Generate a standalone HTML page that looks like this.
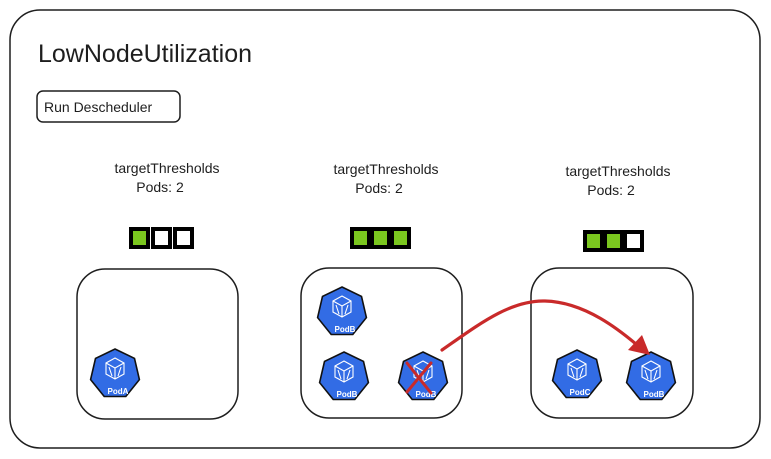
<!DOCTYPE html>
<html><head><meta charset="utf-8"><style>
html,body{margin:0;padding:0;background:#fff;width:771px;height:459px;overflow:hidden}
svg{display:block}
text{font-family:"Liberation Sans",sans-serif;fill:#1e1e1e}
</style></head><body>
<svg width="771" height="459" viewBox="0 0 771 459" xmlns="http://www.w3.org/2000/svg">
<defs>
<g id="pod">
<polygon points="0,-25 19.5,-15.6 24.4,5.6 10.8,22.5 -10.8,22.5 -24.4,5.6 -19.5,-15.6" fill="#326ce5" stroke="#111" stroke-width="1.6"/>
<g stroke="#fff" stroke-width="1.1" fill="none">
<polygon points="0,-16 9,-11 9,0 0,5 -9,0 -9,-11"/>
<polyline points="-9,-11 0,-6 9,-11"/><line x1="0" y1="-6" x2="0" y2="5"/>
<line x1="-6" y1="-7" x2="-3" y2="2"/><line x1="6" y1="-7" x2="3" y2="2"/>
</g>
</g>
</defs>
<rect x="10" y="10" width="750" height="438" rx="30" fill="#fff" stroke="#1e1e1e" stroke-width="1.5"/>
<text x="38" y="62" font-size="25">LowNodeUtilization</text>
<rect x="37" y="91" width="143" height="31" rx="6" fill="#fff" stroke="#1e1e1e" stroke-width="1.5"/>
<text x="44" y="112" font-size="14">Run Descheduler</text>

<g font-size="14" text-anchor="middle">
<text x="167" y="173">targetThresholds</text><text x="160" y="192">Pods: 2</text>
<text x="386" y="174">targetThresholds</text><text x="379" y="193">Pods: 2</text>
<text x="618" y="176">targetThresholds</text><text x="611" y="195">Pods: 2</text>
</g>

<g stroke="#000" stroke-width="4">
<rect x="131" y="229" width="17" height="18" fill="#7bc71f"/>
<rect x="153" y="229" width="17" height="18" fill="#fff"/>
<rect x="175" y="229" width="17" height="18" fill="#fff"/>
<rect x="352" y="229" width="17" height="18" fill="#7bc71f"/>
<rect x="372" y="229" width="17" height="18" fill="#7bc71f"/>
<rect x="392" y="229" width="17" height="18" fill="#7bc71f"/>
<rect x="585" y="232" width="17" height="18" fill="#7bc71f"/>
<rect x="605" y="232" width="17" height="18" fill="#7bc71f"/>
<rect x="625" y="232" width="17" height="18" fill="#fff"/>
</g>

<g fill="none" stroke="#1e1e1e" stroke-width="1.5">
<rect x="77" y="269" width="161" height="150" rx="28"/>
<rect x="301" y="268" width="161" height="150" rx="28"/>
<rect x="531" y="268" width="162" height="150" rx="28"/>
</g>

<use href="#pod" x="115" y="374"/>
<use href="#pod" x="342" y="312"/>
<use href="#pod" x="344" y="377"/>
<use href="#pod" x="423" y="377"/>
<use href="#pod" x="577" y="375"/>
<use href="#pod" x="651" y="377"/>
<g font-size="8" fill="#fff" text-anchor="middle" font-weight="bold">
<text x="118" y="394" style="fill:#fff">PodA</text>
<text x="345" y="332" style="fill:#fff">PodB</text>
<text x="347" y="397" style="fill:#fff">PodB</text>
<text x="426" y="397" style="fill:#fff">PodB</text>
<text x="580" y="395" style="fill:#fff">PodC</text>
<text x="654" y="397" style="fill:#fff">PodB</text>
</g>
<g stroke="#c92a2a" stroke-width="3" stroke-linecap="round">
<line x1="407" y1="363" x2="431" y2="393"/><line x1="431" y1="363" x2="407" y2="392"/>
</g>
<path d="M442,350 C478,325 510,300 545,301 C585,302 620,330 643,350" fill="none" stroke="#c92a2a" stroke-width="3.2" stroke-linecap="round"/>
<polygon points="650,355 628,350 642,335" fill="#c92a2a"/>
</svg>
</body></html>
